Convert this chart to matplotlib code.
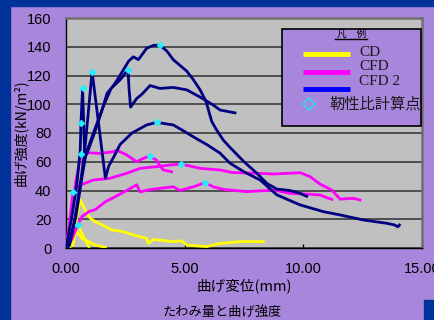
import matplotlib
matplotlib.use("Agg")
import matplotlib.pyplot as plt
from matplotlib.patches import Rectangle
from matplotlib.lines import Line2D

# ---------------- data ----------------
# CD (yellow)
cd1_x = [0, 0.3, 0.46, 0.6, 0.74, 0.88, 1.03, 1.24, 1.94, 2.41, 2.84, 3.4, 3.47, 3.68, 4.52, 4.87, 5.09, 5.93, 6.49, 7.33, 8.31]
cd1_y = [0, 2, 22, 33.4, 28.7, 24.1, 20.6, 18.3, 12.5, 11.4, 9, 6.7, 3.2, 6, 4.4, 5, 2, 1, 3.2, 4.4, 4.4]
cd2_x = [0, 0.15, 0.46, 0.67, 1.24, 1.66]
cd2_y = [0, 1, 11.4, 6.7, 2, 0.5]
cd3_x = [0, 0.25, 0.39, 0.6, 0.88, 0.96]
cd3_y = [0, 12.5, 19.5, 12.5, 3.2, 1]

# CFD (magenta)
cfd1_x = [0, 0.2, 0.4, 0.63, 0.87, 1.43, 2.0, 2.14, 2.56, 2.98, 3.2, 3.53, 3.82, 3.96, 4.1, 4.45]
cfd1_y = [0, 20, 45, 65.4, 66.3, 65.8, 67, 68, 64.7, 60, 62, 64, 61, 57, 54.3, 53]
cfd2_x = [0, 0.15, 0.3, 0.5, 0.8, 1.15, 1.85, 2.56, 3.12, 3.82, 4.38, 4.83, 5.23, 5.65, 6.49, 7.0, 8.04,
          8.74, 9.44, 9.86, 10.28, 10.7, 11.2, 11.55, 12.1, 12.39]
cfd2_y = [0, 18, 39.2, 43, 45, 47.3, 48.5, 52, 55.4, 56.6, 57.7, 58.4, 57, 55.4, 54.3, 52.5, 52,
          51.5, 52, 52.4, 49.7, 44.5, 40.3, 34, 34.6, 33.4]
cfd3_x = [0, 0.25, 0.49, 0.67, 0.96, 1.24, 1.66, 1.94, 2.56, 2.98, 3.12, 3.5, 3.96, 4.52, 4.8, 5.37, 5.86,
          6.2, 6.63, 7.6, 8.74, 9.44, 10.14, 10.7, 11.06, 11.2]
cfd3_y = [0, 6, 16, 21.8, 25.3, 26.8, 32.2, 34.5, 40, 44, 39, 40.5, 41.5, 42.6, 40, 42.6, 45.5,
          42.6, 40.8, 39.2, 40.3, 38, 37.5, 36.9, 34.6, 33.9]

# CFD 2 (navy)
cfd2a_x = [0, 0.25, 0.46, 0.6, 0.63, 0.70, 0.79, 0.89, 1.2, 1.5, 1.73, 2.0, 2.2, 2.64, 2.84, 3.05, 3.4,
           3.7, 3.96, 4.25, 4.52, 5.09, 5.37, 5.65, 5.9, 6.14, 6.35, 6.63, 6.91, 7.5, 8.04, 8.46, 8.88,
           9.44, 9.86, 10.14]
cfd2a_y = [0, 22, 45, 68, 87, 111, 63, 66, 80, 95, 107.6, 113, 118, 130, 133, 131, 139,
           141, 141, 137, 131, 123, 117, 110, 102, 88, 82, 75, 70, 60, 52, 45, 41,
           40, 38, 36]
cfd2b_x = [0, 0.11, 0.39, 0.65, 0.79, 1.10, 1.66, 1.8, 2.0, 2.28, 2.78, 3.4, 3.82, 4.52, 5.0, 5.4, 5.93,
           6.49, 6.91, 7.5, 8.18, 8.88, 9.86, 10.84, 11.55, 12.53, 13.51, 13.85, 13.98, 14.05]
cfd2b_y = [0, 1, 22, 50, 68, 122.7, 48.5, 57, 63, 72, 80, 85.6, 87.4, 85.6, 81, 77, 72,
           66, 59, 53, 47.3, 37, 30, 25.3, 23, 19.5, 17.2, 16, 14.8, 16]
cfd2c_x = [0, 0.15, 0.42, 0.68, 0.85, 1.2, 1.56, 1.9, 2.28, 2.61, 2.66, 2.72, 2.98, 3.2, 3.54, 3.96,
           4.52, 5.09, 5.65, 6.2, 6.49, 6.8, 7.12]
cfd2c_y = [0, 2, 22, 50, 66, 82, 98, 111, 117, 124, 110, 98, 104, 107, 113, 111,
           111.7, 110, 105, 99.5, 96, 95, 94]

# toughness-ratio calculation points
pts_x = [0.63, 0.70, 1.10, 2.61, 3.96, 3.82, 0.63, 3.53, 0.30, 4.83, 0.49, 5.86]
pts_y = [87, 111, 122.7, 124, 141, 87.4, 65.4, 64, 39.2, 58.4, 16, 45.5]

x_ticks = [0, 5, 10, 15]
y_ticks = [0, 20, 40, 60, 80, 100, 120, 140, 160]

legend_labels = ["CD", "CFD", "CFD 2"]

# ---------------- style ----------------
W, H = 435, 320
PURPLE = "#A886DC"
DBLUE = "#003399"
CJK = ["Noto Sans CJK JP", "DejaVu Sans"]

fig = plt.figure(figsize=(W / 100, H / 100), dpi=100)
fig.patch.set_facecolor(PURPLE)

def fx(px):
    return px / W

def fy(py):
    return 1 - py / H

# dark blue frame pieces
fig.add_artist(Rectangle((0, 0), fx(10), 1, transform=fig.transFigure, color=DBLUE, zorder=0))
fig.add_artist(Rectangle((0, fy(6)), 1, 6 / H, transform=fig.transFigure, color=DBLUE, zorder=0))
fig.add_artist(Rectangle((fx(424), 0), fx(11), 20 / H, transform=fig.transFigure, color=DBLUE, zorder=0))

ax = fig.add_axes([fx(66), fy(248), fx(422 - 66), (248 - 18) / H])
ax.set_facecolor("#C0C0C0")
ax.set_xlim(0, 15)
ax.set_ylim(0, 160)
ax.set_xticks(x_ticks)
ax.set_yticks(y_ticks)
ax.set_xticklabels([f"{v:.2f}" for v in x_ticks], fontfamily="Liberation Sans", fontsize=10.5)
ax.set_yticklabels([str(v) for v in y_ticks], fontfamily="Liberation Sans", fontsize=10.5)
ax.tick_params(axis="y", length=0, pad=10.5, colors="black")
ax.tick_params(axis="x", direction="in", length=3, width=1, pad=10, colors="black")
ax.grid(axis="y", color="#303030", linewidth=1.1)
ax.set_axisbelow(True)
for s in ["left", "bottom"]:
    ax.spines[s].set_color("black")
    ax.spines[s].set_linewidth(1.0)
for s in ["top", "right"]:
    ax.spines[s].set_color("#707070")
    ax.spines[s].set_linewidth(1.8)

lw = 2.0
for xs, ys in [(cd1_x, cd1_y), (cd2_x, cd2_y), (cd3_x, cd3_y)]:
    ax.plot(xs, ys, color="#FFFF00", lw=lw, solid_joinstyle="round", zorder=3)
for xs, ys in [(cfd1_x, cfd1_y), (cfd2_x, cfd2_y), (cfd3_x, cfd3_y)]:
    ax.plot(xs, ys, color="#FF00FF", lw=lw, solid_joinstyle="round", zorder=3)
for xs, ys in [(cfd2a_x, cfd2a_y), (cfd2b_x, cfd2b_y), (cfd2c_x, cfd2c_y)]:
    ax.plot(xs, ys, color="#000080", lw=lw, solid_joinstyle="round", zorder=4)
ax.plot(pts_x, pts_y, linestyle="none", marker="D", markersize=3.4,
        markerfacecolor="#22F0FF", markeredgecolor="#22F0FF", markeredgewidth=0.6, zorder=5)

# axis labels and caption
fig.text(fx(244), fy(286), "曲げ変位(mm)", ha="center", va="center", fontsize=10.5, family=CJK)
fig.text(fx(21), fy(132.5), "曲げ強度(kN/m²)", ha="center", va="center", rotation=90,
         fontsize=10, family=CJK)
fig.text(fx(222), fy(312.5), "たわみ量と曲げ強度", ha="center", va="center", fontsize=9.5, family=CJK)

# legend (manual)
fig.add_artist(Rectangle((fx(282), fy(126)), fx(421 - 282), (126 - 29) / H, transform=fig.transFigure,
                         facecolor=PURPLE, edgecolor="black", linewidth=1.2, zorder=10))
fig.text(fx(351.5), fy(33.5), "凡　例", ha="center", va="center", fontsize=7, family=CJK, zorder=11)
fig.add_artist(Line2D([fx(335), fx(367)], [fy(39), fy(39)], transform=fig.transFigure,
                      color="black", lw=1.0, zorder=11))
handle_colors = ["#FFFF00", "#FF00FF", "#0000FF"]
handle_y = [54.3, 72.3, 88.7]
text_y = [52, 66, 81.5]
for c, hy, ty, lab in zip(handle_colors, handle_y, text_y, legend_labels):
    fig.add_artist(Line2D([fx(303), fx(350)], [fy(hy), fy(hy)], transform=fig.transFigure,
                          color=c, lw=3.5, solid_capstyle="butt", zorder=11))
    fig.text(fx(359), fy(ty), lab, ha="left", va="center", fontsize=11,
             family="Liberation Serif", color="#1a1a1a", zorder=11)
fig.add_artist(Line2D([fx(309)], [fy(104.3)], transform=fig.transFigure, linestyle="none",
                      marker="D", markersize=6.3, markerfacecolor="none",
                      markeredgecolor="#30D8F8", markeredgewidth=1.2, zorder=11))
fig.text(fx(329), fy(104.3), "靭性比計算点", ha="left", va="center", fontsize=11,
         family=CJK, color="#1a1a1a", zorder=11)

fig.savefig("out.png", dpi=100, facecolor=fig.get_facecolor())
